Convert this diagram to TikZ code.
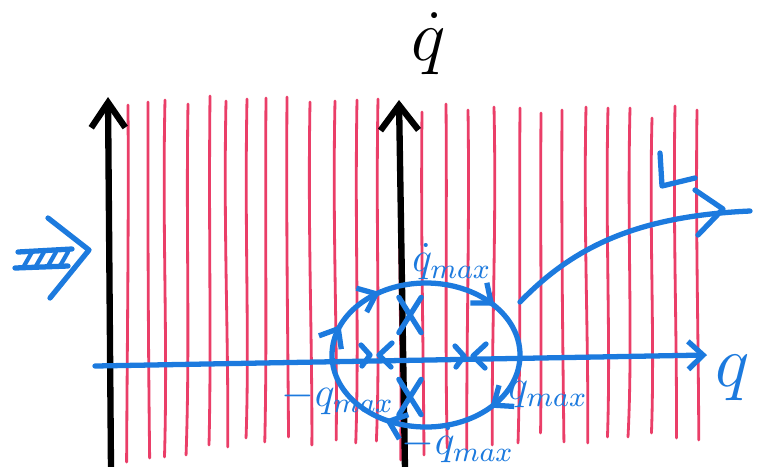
\documentclass[tikz,border=0pt]{standalone}
\usepackage{amsmath}
\usetikzlibrary{arrows.meta, positioning, calc, shapes.misc, decorations.markings}
\definecolor{penblue}{RGB}{28,122,222}
\definecolor{penred}{RGB}{234,62,104}

\begin{document}
\begin{tikzpicture}[x=0.01cm, y=-0.01cm, line cap=round, line join=round,
  axis/.style={black, line width=1.8pt},
  ink/.style={penblue, line width=1.5pt},
  gridline/.style={penred, line width=0.8pt},
  fixpt/.style={cross out, draw=penblue, line width=1.5pt, minimum width=0.17cm, minimum height=0.3cm, inner sep=0pt},
  lbl/.style={penblue, font=\large},
  orbit/.style={ink, postaction={decorate}, decoration={markings,
      mark=at position 0.12 with {\arrow{Straight Barb[length=0.16cm, width=0.26cm]}},
      mark=at position 0.33 with {\arrow{Straight Barb[length=0.16cm, width=0.26cm]}},
      mark=at position 0.56 with {\arrow{Straight Barb[length=0.16cm, width=0.26cm]}},
      mark=at position 0.66 with {\arrow{Straight Barb[length=0.16cm, width=0.26cm]}},
      mark=at position 0.89 with {\arrow{Straight Barb[length=0.16cm, width=0.26cm]}}}}]
  \clip (0,0) rectangle (764,466);
  \fill[white] (0,0) rectangle (764,466);

  % ruled paper
  \foreach \x/\t/\b in {128/105/462, 148/102/458, 165/100/457, 188/104/455, 210/96/445, 226/101/447,
      247/99/438, 266/98/442, 287/97/437, 310/102/445, 335/101/440, 357/100/443, 378/99/441, 400/104/460,
      422/112/455, 446/104/448, 468/110/450, 494/107/445, 520/108/443, 541/113/433, 562/110/442,
      586/107/443, 608/108/437, 630/108/437, 652/118/433, 675/106/438, 697/110/440} {
    \draw[gridline] (\x,\t) .. controls ({\x+3*sin(17*\x)},230) and ({\x-3*sin(17*\x)},340) .. ({\x+2*sin(13*\x)},\b);
  }

  % axes
  \coordinate (lbot) at (111,470);
  \coordinate (ltop) at (108,97);
  \coordinate (mbot) at (405,470);
  \coordinate (mtop) at (399,100);
  \coordinate (hleft) at (95,366);
  \coordinate (hright) at (707,355);
  \draw[axis, -{Straight Barb[length=0.25cm, width=0.34cm]}] (lbot) -- (ltop);
  \draw[axis, -{Straight Barb[length=0.25cm, width=0.38cm]}] (mbot) -- (mtop);
  \draw[ink, -{Straight Barb[length=0.15cm, width=0.28cm]}] (hleft) -- (hright);
  \node[font=\huge] (qdot) at (429,44) {$\dot q$};
  \node[penblue, font=\huge] (qlab) at (733,378) {$q$};

  % orbit and fixed points
  \draw[orbit] (426,355) ellipse (94 and 72);
  \node[fixpt] (fixtop) at (410,315) {};
  \node[fixpt] (fixbot) at (410,397) {};
  \coordinate (eqL) at (375,355);
  \coordinate (eqR) at (469,356);
  \foreach \c in {eqL, eqR} {
    \draw[ink] ($(\c)+(-14,-10)$) -- ($(\c)+(-5,0)$) -- ($(\c)+(-13,11)$);
    \draw[ink] ($(\c)+(17,-12)$) -- ($(\c)+(4,0)$) -- ($(\c)+(16,12)$);
  }

  % limits
  \node[lbl] (qdmax) at (452,262) {$\dot q_{max}$};
  \node[lbl] (qmin) at (338,398) {$-q_{max}$};
  \node[lbl] (qmax) at (548,395) {$q_{max}$};
  \node[lbl] (qdmin) at (458,445) {$-\dot q_{max}$};

  % escaping trajectory
  \coordinate (exitA) at (520,302);
  \coordinate (exitB) at (750,211);
  \coordinate (exitTip) at (723,209);
  \draw[ink] (exitA) .. controls (575,245) and (640,216) .. (exitB);
  \draw[ink] (695,190) -- (exitTip) -- (698,235);
  \draw[ink] (660,153) -- (662,186) -- (695,178);

  % push from the left
  \coordinate (pushTip) at (89,250);
  \draw[ink] (48,218) -- (pushTip) -- (50,298);
  \draw[ink] (18,252) -- (72,249);
  \draw[ink] (15,268) -- (68,266);
  \foreach \h in {24,36,48,60} \draw[ink, line width=1.2pt] (\h,266) -- (\h+8,252);
\end{tikzpicture}
\end{document}
